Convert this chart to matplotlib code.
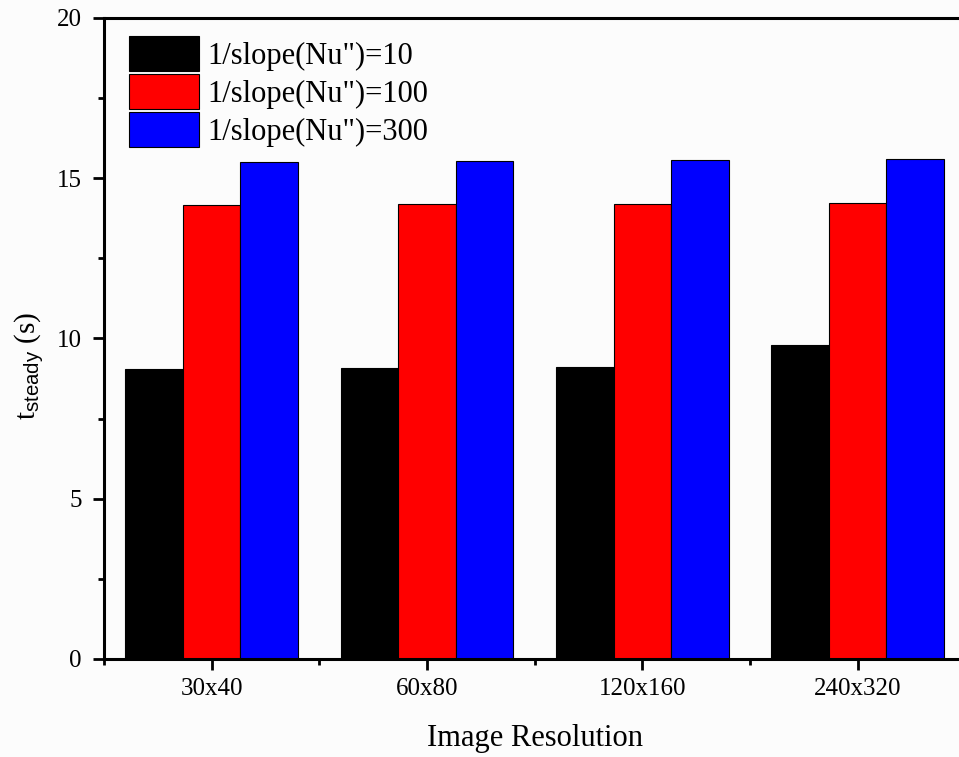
import numpy as np
import matplotlib
matplotlib.use("Agg")
from matplotlib import pyplot as plt
from matplotlib.ticker import MultipleLocator, FixedLocator

resolutions = ["30x40", "60x80", "120x160", "240x320"]
series_labels = ['1/slope(Nu")=10', '1/slope(Nu")=100', '1/slope(Nu")=300']
t_slope10 = [9.05, 9.08, 9.12, 9.80]
t_slope100 = [14.15, 14.18, 14.21, 14.24]
t_slope300 = [15.52, 15.55, 15.58, 15.61]
colors = ["#000000", "#ff0000", "#0000ff"]

plt.rcParams['font.family'] = ['Liberation Serif', 'DejaVu Serif']
plt.rcParams['mathtext.fontset'] = 'custom'
plt.rcParams['mathtext.rm'] = 'Liberation Serif'
plt.rcParams['mathtext.sf'] = 'Liberation Sans'

fig = plt.figure(figsize=(9.59, 7.57), dpi=100, facecolor="#fcfcfc")
# axes runs past the right edge of the figure
ax = fig.add_axes([0.1084, 0.1295, 0.8983, 0.8468])
ax.set_facecolor("#fcfcfc")

x = np.arange(len(resolutions))
w = 0.267
for i, (vals, lab) in enumerate(zip([t_slope10, t_slope100, t_slope300], series_labels)):
    ax.bar(x + (i - 1) * w, vals, w, color=colors[i], edgecolor="black",
           linewidth=0.8, label=lab)

ax.set_xlim(-0.5, 3.5)
ax.set_ylim(0, 20)
ax.set_xticks(x)
ax.set_xticklabels(resolutions)
ax.xaxis.set_minor_locator(FixedLocator([-0.5, 0.5, 1.5, 2.5]))
ax.yaxis.set_major_locator(MultipleLocator(5))
ax.yaxis.set_minor_locator(MultipleLocator(2.5))

for s in ["left", "bottom", "top"]:
    ax.spines[s].set_linewidth(2.2)
ax.spines["right"].set_visible(False)

ax.tick_params(which="major", direction="out", length=8, width=2, labelsize=18, pad=6)
ax.tick_params(which="minor", direction="out", length=4, width=2)
ax.tick_params(axis="y", which="major", pad=8)
ax.tick_params(top=False, right=False)

ax.set_xlabel("Image Resolution", fontsize=22, labelpad=17)
ax.set_ylabel(r"$\mathregular{t_{\mathsf{steady}}}$ (s)", fontsize=21)
ax.yaxis.set_label_coords(-0.068, 0.457)

ax.legend(loc="upper left", bbox_to_anchor=(0.029, 0.972), frameon=False,
          fontsize=22, handlelength=2.3, handleheight=1.385, handletextpad=0.26,
          labelspacing=0.1, borderpad=0, borderaxespad=0)

fig.savefig("out.png", dpi=100, facecolor=fig.get_facecolor())
